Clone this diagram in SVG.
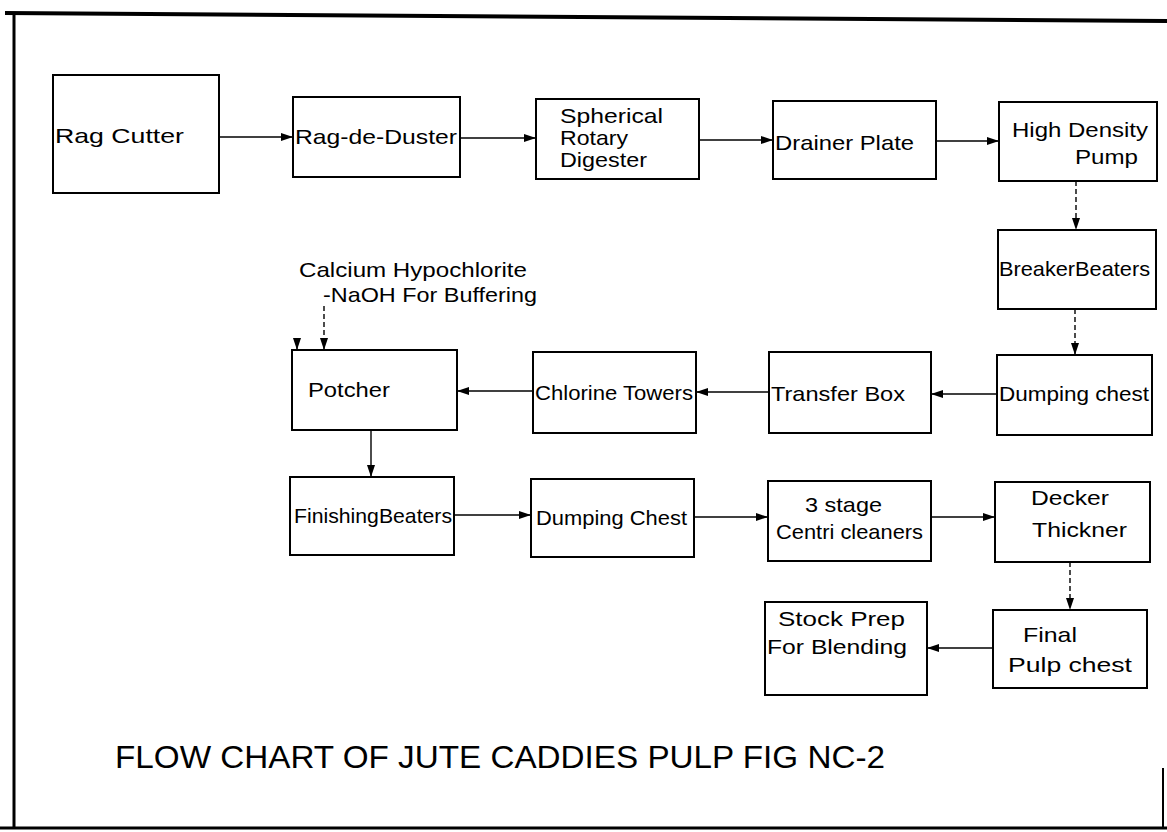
<svg xmlns="http://www.w3.org/2000/svg" width="1167" height="832" viewBox="0 0 1167 832">
<style>
.box{fill:#fff;stroke:#000;stroke-width:2}
.t{font-family:"Liberation Sans","DejaVu Sans",sans-serif;font-size:21px;fill:#000}
.c{fill:none;stroke:#000;stroke-width:1.4}
.d{fill:none;stroke:#000;stroke-width:1.4;stroke-dasharray:5 3}
.fr{fill:none;stroke:#000}
</style>
<defs>
<marker id="ah" viewBox="0 0 12 8" refX="12" refY="4" markerWidth="12" markerHeight="8" markerUnits="userSpaceOnUse" orient="auto">
<path d="M0,0 L12,4 L0,8 z" fill="#000"/>
</marker>
</defs>
<rect width="1167" height="832" fill="#fff"/>
<g id="frame">
<path class="fr" d="M5,13 L1167,21" stroke-width="4"/>
<path class="fr" d="M14,12 L14,829" stroke-width="3"/>
<path class="fr" d="M0,828 L1167,828" stroke-width="3"/>
<path class="fr" d="M1163,768 L1163,828" stroke-width="2"/>
</g>
<g id="connectors">
<path class="c" d="M219,137 L293,137" marker-end="url(#ah)"/>
<path class="c" d="M460,138 L536,138" marker-end="url(#ah)"/>
<path class="c" d="M699,140 L773,140" marker-end="url(#ah)"/>
<path class="c" d="M936,141 L999,141" marker-end="url(#ah)"/>
<path class="d" d="M1076,181 L1076,230" marker-end="url(#ah)"/>
<path class="d" d="M1075,309 L1075,355" marker-end="url(#ah)"/>
<path class="c" d="M997,394 L931,394" marker-end="url(#ah)"/>
<path class="c" d="M769,392 L696,392" marker-end="url(#ah)"/>
<path class="c" d="M533,391 L457,391" marker-end="url(#ah)"/>
<path class="c" d="M297,338 L297,350" marker-end="url(#ah)"/>
<path class="d" d="M324,306 L324,350" marker-end="url(#ah)"/>
<path class="c" d="M371,430 L371,477" marker-end="url(#ah)"/>
<path class="c" d="M454,515 L531,515" marker-end="url(#ah)"/>
<path class="c" d="M694,517 L768,517" marker-end="url(#ah)"/>
<path class="c" d="M931,517 L995,517" marker-end="url(#ah)"/>
<path class="d" d="M1070,562 L1070,610" marker-end="url(#ah)"/>
<path class="c" d="M993,648 L927,648" marker-end="url(#ah)"/>
</g>
<g id="rag-cutter">
<rect class="box" x="53" y="75" width="166" height="118"/>
<text class="t" x="55" y="143" textLength="129" lengthAdjust="spacingAndGlyphs">Rag Cutter</text>
</g>
<g id="rag-de-duster">
<rect class="box" x="293" y="97" width="167" height="80"/>
<text class="t" x="295" y="144" textLength="162" lengthAdjust="spacingAndGlyphs">Rag-de-Duster</text>
</g>
<g id="spherical-rotary-digester">
<rect class="box" x="536" y="99" width="163" height="80"/>
<text class="t" x="560" y="123" textLength="103" lengthAdjust="spacingAndGlyphs">Spherical</text>
<text class="t" x="560" y="145" textLength="68" lengthAdjust="spacingAndGlyphs">Rotary</text>
<text class="t" x="560" y="167" textLength="87" lengthAdjust="spacingAndGlyphs">Digester</text>
</g>
<g id="drainer-plate">
<rect class="box" x="773" y="101" width="163" height="78"/>
<text class="t" x="775" y="150" textLength="139" lengthAdjust="spacingAndGlyphs">Drainer Plate</text>
</g>
<g id="high-density-pump">
<rect class="box" x="999" y="102" width="158" height="79"/>
<text class="t" x="1012" y="137" textLength="136" lengthAdjust="spacingAndGlyphs">High Density</text>
<text class="t" x="1075" y="164" textLength="63" lengthAdjust="spacingAndGlyphs">Pump</text>
</g>
<g id="breaker-beaters">
<rect class="box" x="998" y="230" width="158" height="79"/>
<text class="t" x="999" y="276" textLength="151" lengthAdjust="spacingAndGlyphs">BreakerBeaters</text>
</g>
<g id="dumping-chest-1">
<rect class="box" x="997" y="355" width="155" height="80"/>
<text class="t" x="999" y="401" textLength="150" lengthAdjust="spacingAndGlyphs">Dumping chest</text>
</g>
<g id="transfer-box">
<rect class="box" x="769" y="352" width="162" height="81"/>
<text class="t" x="771" y="401" textLength="134" lengthAdjust="spacingAndGlyphs">Transfer  Box</text>
</g>
<g id="chlorine-towers">
<rect class="box" x="533" y="352" width="163" height="81"/>
<text class="t" x="535" y="400" textLength="158" lengthAdjust="spacingAndGlyphs">Chlorine Towers</text>
</g>
<g id="potcher">
<rect class="box" x="292" y="350" width="165" height="80"/>
<text class="t" x="308" y="397" textLength="82" lengthAdjust="spacingAndGlyphs">Potcher</text>
</g>
<g id="chemicals">
<text class="t" x="299" y="277" textLength="228" lengthAdjust="spacingAndGlyphs">Calcium Hypochlorite</text>
<text class="t" x="323" y="302" textLength="214" lengthAdjust="spacingAndGlyphs">-NaOH For Buffering</text>
</g>
<g id="finishing-beaters">
<rect class="box" x="290" y="477" width="164" height="78"/>
<text class="t" x="294" y="523" textLength="158" lengthAdjust="spacingAndGlyphs">FinishingBeaters</text>
</g>
<g id="dumping-chest-2">
<rect class="box" x="531" y="479" width="163" height="78"/>
<text class="t" x="536" y="525" textLength="151" lengthAdjust="spacingAndGlyphs">Dumping Chest</text>
</g>
<g id="centri-cleaners">
<rect class="box" x="768" y="481" width="163" height="80"/>
<text class="t" x="805" y="512" textLength="77" lengthAdjust="spacingAndGlyphs">3 stage</text>
<text class="t" x="776" y="539" textLength="147" lengthAdjust="spacingAndGlyphs">Centri cleaners</text>
</g>
<g id="decker-thickner">
<rect class="box" x="995" y="482" width="155" height="80"/>
<text class="t" x="1031" y="505" textLength="78" lengthAdjust="spacingAndGlyphs">Decker</text>
<text class="t" x="1032" y="537" textLength="95" lengthAdjust="spacingAndGlyphs">Thickner</text>
</g>
<g id="final-pulp-chest">
<rect class="box" x="993" y="610" width="154" height="78"/>
<text class="t" x="1023" y="642" textLength="54" lengthAdjust="spacingAndGlyphs">Final</text>
<text class="t" x="1008" y="672" textLength="124" lengthAdjust="spacingAndGlyphs">Pulp chest</text>
</g>
<g id="stock-prep">
<rect class="box" x="765" y="602" width="162" height="93"/>
<text class="t" x="778" y="626" textLength="127" lengthAdjust="spacingAndGlyphs">Stock Prep</text>
<text class="t" x="767" y="654" textLength="140" lengthAdjust="spacingAndGlyphs">For Blending</text>
</g>
<g id="title">
<text class="t" x="115" y="768" style="font-size:31px" textLength="770" lengthAdjust="spacingAndGlyphs">FLOW CHART OF JUTE CADDIES PULP FIG NC-2</text>
</g>
</svg>
